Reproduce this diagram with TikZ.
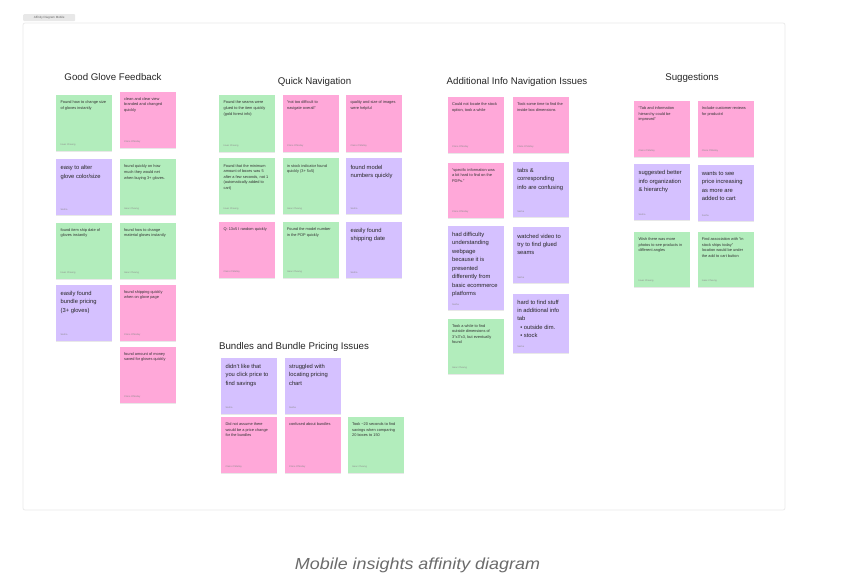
\documentclass[tikz,border=0pt]{standalone}
\usepackage{fontspec}
\setmainfont{Liberation Sans}
\newfontfamily\capfont[FakeStretch=1.12]{Liberation Sans}
\usetikzlibrary{shadows}
\definecolor{gcol}{RGB}{178,237,188}
\definecolor{pcol}{RGB}{255,168,217}
\definecolor{vcol}{RGB}{213,193,255}
\tikzset{
 stickybox/.style={anchor=north west, minimum width=56pt, minimum height=56pt, inner sep=0pt, draw=none,
   drop shadow={shadow xshift=0pt, shadow yshift=-1pt, opacity=0.18}},
 smalltxt/.style={anchor=north west, align=left, inner sep=0pt, yshift=-5.8pt,
   font=\fontsize{3.9}{5.6}\selectfont, text=black!80},
 bigtxt/.style={anchor=north west, align=left, inner sep=0pt, yshift=-6.3pt,
   font=\fontsize{5.8}{8.45}\selectfont, text=black!85},
 authortxt/.style={anchor=south west, inner sep=0pt, font=\fontsize{2.4}{3}\selectfont, text=black!45},
 titletxt/.style={font=\fontsize{9.7}{12}\selectfont, text=black!85, inner sep=0pt},
}
% name, x, y, colour, height, text style, text, author
\newcommand\stk[8]{%
 \node[stickybox, fill=#4, minimum height=#5pt] (#1) at (#2,#3) {};
 \node[#6, xshift=4.4pt] (#1-t) at (#1.north west) {#7};
 \node[authortxt] (#1-a) at ([xshift=4.4pt,yshift=5pt]#1.south west) {#8};
}
\newcommand\IC{Isaac Cheung}
\newcommand\CO{Claire O’Malley}
\newcommand\SA{Sasha}
\begin{document}
\begin{tikzpicture}[x=1pt,y=-1pt]
\useasboundingbox (0,0) rectangle (859,585);
\fill[white] (0,0) rectangle (859,585);
% board frame and tab
\draw[black!8, line width=0.8pt, rounded corners=2pt] (23,23) rectangle (785,510);
\node[fill=black!9, rounded corners=1pt, inner sep=0pt, anchor=north west, minimum width=52pt, minimum height=7pt,
  font=\fontsize{3}{3}\selectfont, text=black!60] (tab) at (23,14) {Affinity Diagram Mobile};
% titles
\node[titletxt] (t1) at (113,77.5) {Good Glove Feedback};
\node[titletxt] (t2) at (314.5,81.5) {Quick Navigation};
\node[titletxt] (t3) at (517,81.5) {Additional Info Navigation Issues};
\node[titletxt] (t4) at (692,77.5) {Suggestions};
\node[titletxt] (t5) at (294,346.5) {Bundles and Bundle Pricing Issues};
% Good Glove Feedback
\stk{gA}{56}{95}{gcol}{56}{smalltxt}{Found how to change size\\of gloves instantly}{\IC}
\stk{gB}{119.5}{91.5}{pcol}{56}{smalltxt}{clean and clear view\\branded and changed\\quickly}{\CO}
\stk{gC}{56}{159}{vcol}{56}{bigtxt}{easy to alter\\glove color/size}{\SA}
\stk{gD}{119.5}{159}{gcol}{56}{smalltxt}{found quickly on how\\much they would net\\when buying 3+ gloves.}{\IC}
\stk{gE}{56}{222.5}{gcol}{56}{smalltxt}{found item ship date of\\gloves instantly}{\IC}
\stk{gF}{119.5}{222.5}{gcol}{56}{smalltxt}{found how to change\\material gloves instantly}{\IC}
\stk{gG}{56}{284.5}{vcol}{56}{bigtxt}{easily found\\bundle pricing\\(3+ gloves)}{\SA}
\stk{gH}{119.5}{284.5}{pcol}{56}{smalltxt}{found shipping quickly\\when on glove page}{\CO}
\stk{gI}{119.5}{346.5}{pcol}{56}{smalltxt}{found amount of money\\saved for gloves quickly}{\CO}
% Quick Navigation
\stk{q1}{219}{95}{gcol}{56.5}{smalltxt}{Found the seams were\\glued to the item quickly\\(gold forest info)}{\IC}
\stk{q2}{282.5}{95}{pcol}{56.5}{smalltxt}{“not too difficult to\\navigate overall”}{\CO}
\stk{q3}{346}{95}{pcol}{56.5}{smalltxt}{quality and size of images\\were helpful}{\CO}
\stk{q4}{219}{158.3}{gcol}{56}{smalltxt}{Found that the minimum\\amount of boxes was 5\\after a few seconds, not 1\\(automatically added to\\cart)}{\IC}
\stk{q5}{282.5}{158.3}{gcol}{56}{smalltxt}{in stock indicator found\\quickly (3+ 5x5)}{\IC}
\stk{q6}{346}{158.3}{vcol}{56}{bigtxt}{found model\\numbers quickly}{\SA}
\stk{q7}{219}{221.7}{pcol}{56.5}{smalltxt}{Q: 13x5 I random quickly}{\CO}
\stk{q8}{282.5}{221.7}{gcol}{56.5}{smalltxt}{Found the model number\\in the PDP quickly}{\IC}
\stk{q9}{346}{221.7}{vcol}{56.5}{bigtxt}{easily found\\shipping date}{\SA}
% Bundles and Bundle Pricing Issues
\stk{b1}{221}{357.5}{vcol}{56}{bigtxt}{didn't like that\\you click price to\\find savings}{\SA}
\stk{b2}{284.5}{357.5}{vcol}{56}{bigtxt}{struggled with\\locating pricing\\chart}{\SA}
\stk{b3}{221}{416.7}{pcol}{56}{smalltxt}{Did not assume there\\would be a price change\\for the bundles}{\CO}
\stk{b4}{284.5}{416.7}{pcol}{56}{smalltxt}{confused about bundles}{\CO}
\stk{b5}{347.5}{416.7}{gcol}{56}{smalltxt}{Took \textasciitilde20 seconds to find\\savings when comparing\\20 boxes to 150}{\IC}
% Additional Info Navigation Issues
\stk{a1}{447.5}{96.7}{pcol}{56.5}{smalltxt}{Could not locate the stock\\option, took a while}{\CO}
\stk{a2}{512.7}{96.7}{pcol}{56.5}{smalltxt}{Took some time to find the\\inside box dimensions}{\CO}
\stk{a3}{447.5}{162.5}{pcol}{55.5}{smalltxt}{“specific information was\\a bit hard to find on the\\PDPs.”}{\CO}
\stk{a4}{512.7}{161.7}{vcol}{55.5}{bigtxt}{tabs \&\\corresponding\\info are confusing}{\SA}
\stk{a5}{447.5}{225.7}{vcol}{84.3}{bigtxt}{had difficulty\\understanding\\webpage\\because it is\\presented\\differently from\\basic ecommerce\\platforms}{\SA}
\stk{a6}{447.5}{318.3}{gcol}{55.7}{smalltxt}{Took a while to find\\outside dimensions of\\3"x3"x3, but eventually\\found}{\IC}
\stk{a7}{512.7}{227.3}{vcol}{56}{bigtxt}{watched video to\\try to find glued\\seams}{\SA}
\stk{a8}{512.7}{293.3}{vcol}{59.4}{bigtxt}{hard to find stuff\\in additional info\\tab\\\hspace*{3pt}• outside dim.\\\hspace*{3pt}• stock}{\SA}
% Suggestions
\stk{s1}{634}{100.7}{pcol}{56}{smalltxt}{“Tab and information\\hierarchy could be\\improved”}{\CO}
\stk{s2}{697.3}{100.7}{pcol}{56}{smalltxt}{Include customer reviews\\for products!}{\CO}
\stk{s3}{634}{164}{vcol}{56}{bigtxt}{suggested better\\info organization\\\& hierarchy}{\SA}
\stk{s4}{697.3}{165}{vcol}{56}{bigtxt}{wants to see\\price increasing\\as more are\\added to cart}{\SA}
\stk{s5}{634}{231.7}{gcol}{55}{smalltxt}{Wish there was more\\photos to see products in\\different angles}{\IC}
\stk{s6}{697.3}{231.7}{gcol}{55}{smalltxt}{Find association with “in\\stock ships today”\\location would be under\\the add to cart button}{\IC}
% caption
\node[font=\capfont\itshape\fontsize{16}{18}\selectfont, text=black!58, inner sep=0pt] (cap) at (417.5,565) {Mobile insights affinity diagram};
\end{tikzpicture}
\end{document}
